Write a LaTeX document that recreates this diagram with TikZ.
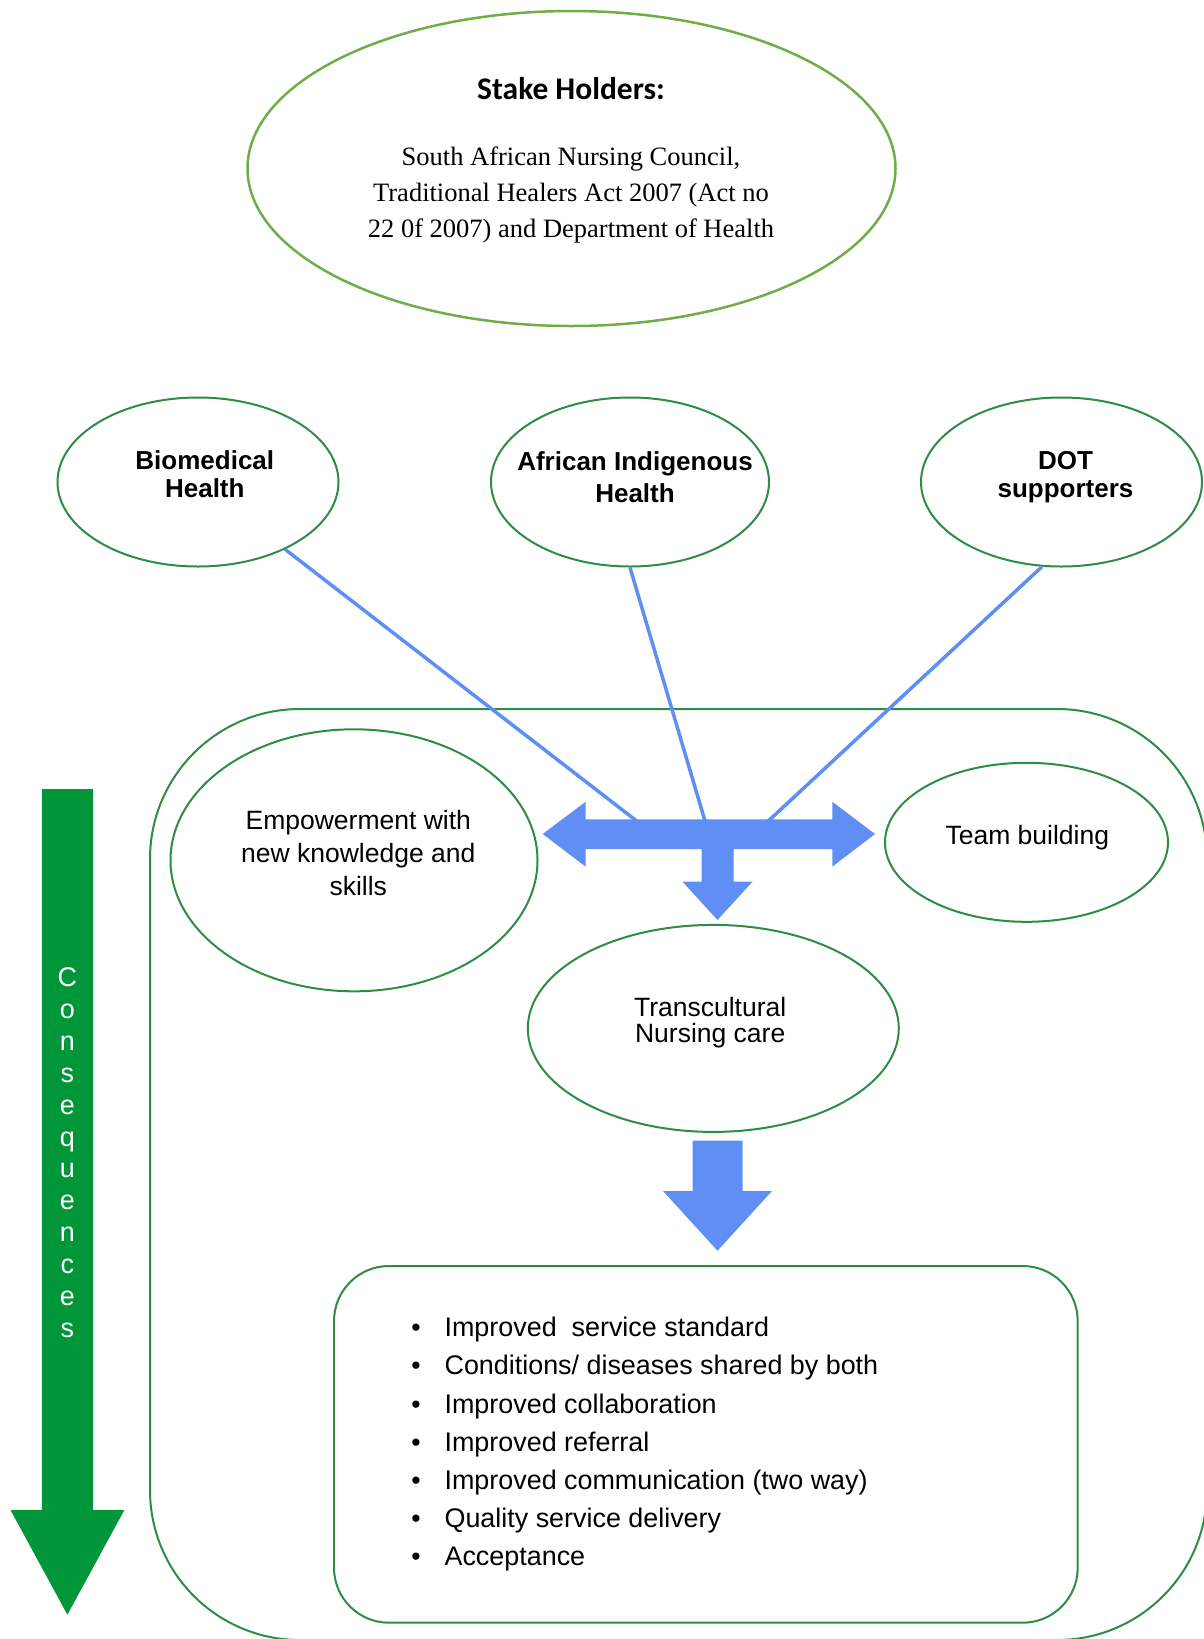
\documentclass[tikz,border=0pt]{standalone}
\usepackage{fontspec}
\setmainfont{Liberation Sans}
\newfontfamily\serifface{Liberation Serif}
\newfontfamily\calface{Carlito}
\usetikzlibrary{shapes.geometric}
\definecolor{ovalgreen}{RGB}{46,140,68}
\definecolor{topgreen}{RGB}{112,173,71}
\definecolor{flowblue}{RGB}{95,143,245}
\definecolor{arrowgreen}{RGB}{0,150,57}
\newcommand\setfs[2]{\fontsize{#1}{#2}\selectfont}
\begin{document}
\begin{tikzpicture}[x=1pt,y=-1pt,
  oval/.style={ellipse, draw=ovalgreen, line width=2pt, inner sep=0pt},
  sanslabel/.style={align=center, inner sep=0pt, text=black},
  blueline/.style={draw=flowblue, line width=3.5pt},
  greenbox/.style={draw=ovalgreen, line width=2pt, inner sep=0pt}
]
\useasboundingbox (0,0) rectangle (1204,1639);
\clip (0,0) rectangle (1204,1639);

% outer frame
\node[greenbox, rounded corners=150pt, minimum width=1057pt, minimum height=931pt] (frame) at (678.5,1174.5) {};

% stakeholders
\node[ellipse, draw=topgreen, line width=2.5pt, inner sep=0pt, minimum width=648pt, minimum height=315pt] (stake) at (571.5,168.5) {};
\node[anchor=base, inner sep=0pt, font=\calface\bfseries\setfs{31.5}{36}] (staketitle) at (571,99.3) {Stake Holders:};
\node[align=center, inner sep=0pt, font=\serifface\setfs{26.5}{35.9}] (staketext) at (571,195.3) {South African Nursing Council,\\Traditional Healers Act 2007 (Act no\\22 0f 2007) and Department of Health};

% top row
\node[oval, minimum width=281pt, minimum height=169pt] (bio) at (198,482) {};
\node[oval, minimum width=278pt, minimum height=169pt] (afr) at (630,482) {};
\node[oval, minimum width=281pt, minimum height=169pt] (dot) at (1061.5,482) {};
\node[sanslabel, font=\bfseries\setfs{26}{28.2}] (biotext) at (204.8,473.9) {Biomedical\\Health};
\node[sanslabel, font=\bfseries\setfs{26}{32.3}] (afrtext) at (635,477.2) {African Indigenous\\Health};
\node[sanslabel, font=\bfseries\setfs{26}{28}] (dottext) at (1065.5,476.8) {DOT\\supporters};

% middle
\node[oval, minimum width=367pt, minimum height=262pt] (emp) at (354,860.3) {};
\node[oval, minimum width=283pt, minimum height=159pt] (team) at (1026.5,842.3) {};
\node[oval, minimum width=371pt, minimum height=207pt] (trans) at (713.3,1028.4) {};
\node[sanslabel, font=\setfs{26.5}{33}] (emptext) at (358.3,853.5) {Empowerment with\\new knowledge and\\skills};
\node[sanslabel, font=\setfs{26.5}{31}] (teamtext) at (1027.3,837.5) {Team building};
\node[sanslabel, font=\setfs{26.5}{26.5}] (transtext) at (710.2,1022.5) {Transcultural\\Nursing care};

% connectors into the T arrow
\coordinate (c1) at (636.7,821);
\coordinate (c2) at (705,821);
\coordinate (c3) at (768.3,821);
\draw[blueline] (bio) -- (c1);
\draw[blueline] (afr.south) -- (c2);
\draw[blueline] (dot.-103) -- (c3);

% T arrow
\fill[flowblue] (542.7,834) -- (585.7,801.7) -- (585.7,819.3) -- (832.3,819.3) -- (832.3,801.7) -- (875,834)
  -- (832.3,866.7) -- (832.3,849) -- (733.5,849) -- (733.5,881.7) -- (752.5,881.7) -- (717.5,920)
  -- (682.5,881.7) -- (701.5,881.7) -- (701.5,849) -- (585.7,849) -- (585.7,866.7) -- cycle;

% down arrow
\fill[flowblue] (692.5,1140.7) -- (742.5,1140.7) -- (742.5,1191) -- (772,1191) -- (717.5,1250.7)
  -- (663,1191) -- (692.5,1191) -- cycle;

% results box
\node[greenbox, rounded corners=55pt, minimum width=743.7pt, minimum height=356.7pt] (results) at (705.85,1444.35) {};
\foreach \t [count=\i from 0] in {{Improved\ \ service standard},{Conditions/ diseases shared by both},{Improved collaboration},{Improved referral},{Improved communication (two way)},{Quality service delivery},{Acceptance}}{
  \node[anchor=base, inner sep=0pt, font=\setfs{26.6}{30}] (bullet\i) at (416,{1336.7+38.2*\i}) {\textbullet};
  \node[anchor=base west, inner sep=0pt, font=\setfs{26.9}{30}] (item\i) at (444.4,{1336.7+38.2*\i}) {\t};
}

% consequences arrow
\fill[arrowgreen] (41.8,789) -- (93,789) -- (93,1510) -- (124.4,1510) -- (67.4,1614.7) -- (10.5,1510) -- (41.8,1510) -- cycle;
\node[sanslabel, text=white, font=\setfs{27}{31.9}] (cons) at (67.4,1152.7) {C\\o\\n\\s\\e\\q\\u\\e\\n\\c\\e\\s};
\end{tikzpicture}
\end{document}
